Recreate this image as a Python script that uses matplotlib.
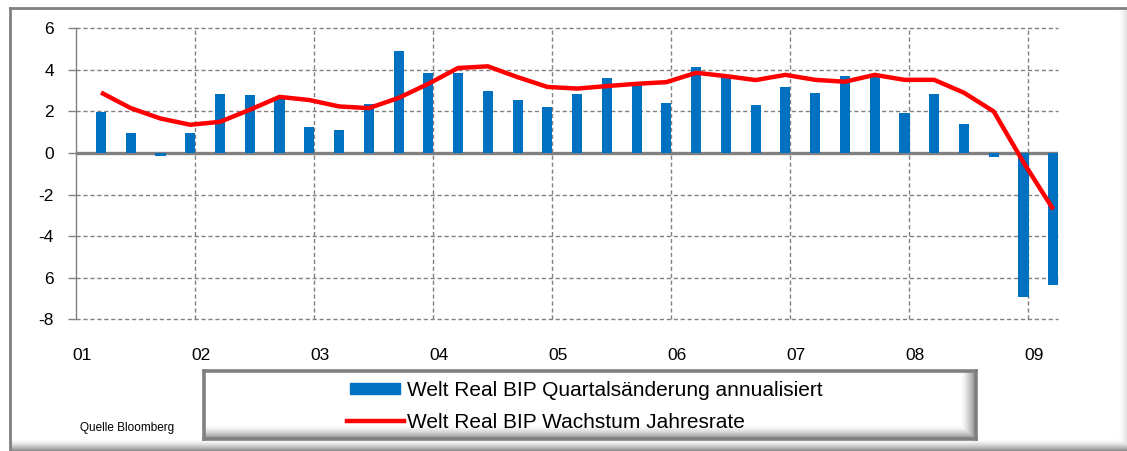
import numpy as np
import matplotlib.pyplot as plt
from matplotlib.patches import Rectangle
from matplotlib.lines import Line2D

plt.rcParams['font.family'] = ['Liberation Sans', 'DejaVu Sans']

# quarterly data, Q1 2001 .. Q1 2009
quarters = np.arange(1, 34)
bip_quartal = [1.98, 0.96, -0.12, 0.96,
               2.85, 2.81, 2.65, 1.26,
               1.11, 2.35, 4.91, 3.86,
               3.86, 3.00, 2.53, 2.20,
               2.82, 3.62, 3.30, 2.39,
               4.14, 3.75, 2.33, 3.20,
               2.87, 3.72, 3.75, 1.92,
               2.82, 1.41, -0.18, -6.92,
               -6.37]
bip_jahr = [2.91, 2.16, 1.66, 1.36,
            1.50, 2.08, 2.70, 2.55,
            2.24, 2.16, 2.65, 3.33,
            4.09, 4.17, 3.65, 3.18,
            3.10, 3.22, 3.33, 3.41,
            3.86, 3.70, 3.51, 3.76,
            3.52, 3.43, 3.76, 3.52,
            3.52, 2.90, 2.00, -0.45,
            -2.71]
year_labels = ['01', '02', '03', '04', '05', '06', '07', '08', '09']
y_ticks = [6, 4, 2, 0, -2, -4, -6, -8]
y_labels = ['6', '4', '2', '0', '-2', '-4', '6', '-8']

blue = '#0070C0'
red = '#FF0000'
grey = '#808080'

W, H = 1127, 451
fig = plt.figure(figsize=(W / 100, H / 100), dpi=100)


def fx(px):
    return px / W


def fy(py):
    return 1 - py / H


def shade_box(x0, y0, x1, y1, edge_r, edge_b, lw):
    # white box with a grey fade along the right and bottom edges
    bx = fig.add_axes([fx(x0), fy(y1), fx(x1 - x0), (y1 - y0) / H], zorder=0)
    nx, ny = int(x1 - x0), int(y1 - y0)
    xs = np.arange(nx)[None, :]
    ys = np.arange(ny)[:, None]
    r = np.clip((xs - (nx - edge_r)) / edge_r, 0, 1)
    b = np.clip((ys - (ny - edge_b)) / edge_b, 0, 1)
    shade = np.maximum(r ** 1.5, b ** 1.5)
    img = 1 - 0.5 * shade
    bx.imshow(np.dstack([img, img, img]), aspect='auto', interpolation='bilinear',
              extent=[0, 1, 0, 1])
    bx.set_xticks([])
    bx.set_yticks([])
    for s in bx.spines.values():
        s.set_color(grey)
        s.set_linewidth(lw)
    return bx


# outer frame
outer = shade_box(10, 8, 1140, 451, 22, 12, 2.0)
outer.spines['right'].set_visible(False)
outer.spines['bottom'].set_visible(False)

ax = fig.add_axes([fx(76), fy(319.3), fx(1058 - 76), (319.3 - 28.3) / H], zorder=2)
ax.patch.set_alpha(0)

x = 2001 + 0.25 * quarters - 0.04
ax.bar(x, bip_quartal, width=0.085, color=blue, zorder=3)
ax.plot(x, bip_jahr, color=red, lw=3.2, solid_capstyle='butt', zorder=4)

ax.set_xlim(2001, 2009.25)
ax.set_ylim(-8, 6)

# grid
for yv in y_ticks:
    if yv != 0:
        ax.axhline(yv, color=grey, lw=1.0, ls=(0, (3, 2)), zorder=1, clip_on=False)
for yr in range(2002, 2010):
    ax.axvline(yr, color=grey, lw=1.0, ls=(0, (3, 2)), zorder=1, clip_on=False)
ax.axhline(0, color=grey, lw=2.4, zorder=2)

for side in ['top', 'right', 'bottom']:
    ax.spines[side].set_visible(False)
ax.spines['left'].set_color(grey)
ax.spines['left'].set_linewidth(1.0)

ax.set_yticks(y_ticks)
ax.set_yticklabels(y_labels)
ax.tick_params(axis='y', length=6, width=1, color=grey, pad=10, labelsize=12.5)
ax.set_xticks(np.arange(2001, 2010) + 0.05)
ax.set_xticklabels(year_labels)
ax.tick_params(axis='x', length=0, pad=21, labelsize=12.5)

# legend box
leg = shade_box(204, 370.5, 976, 439, 16, 14, 2.6)
fig.add_artist(Rectangle((fx(350), fy(394)), fx(50), 11 / H, transform=fig.transFigure,
                         color=blue, zorder=5))
fig.add_artist(Line2D([fx(347), fx(404)], [fy(421), fy(421)], transform=fig.transFigure,
                      color=red, lw=3.2, zorder=5))
fig.text(fx(407), fy(390), 'Welt Real BIP Quartalsänderung annualisiert',
         fontsize=15, va='center', ha='left', zorder=6)
fig.text(fx(407), fy(422), 'Welt Real BIP Wachstum Jahresrate',
         fontsize=15, va='center', ha='left', zorder=6)

fig.text(fx(80), fy(428), 'Quelle Bloomberg', fontsize=8.5, va='center', ha='left')

fig.savefig('out.png', dpi=100)
